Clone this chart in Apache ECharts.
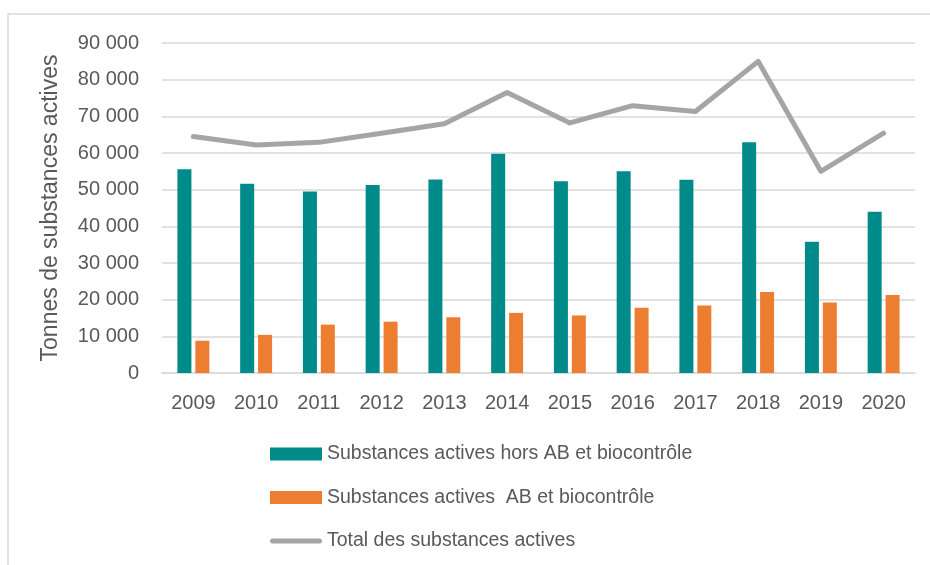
<!DOCTYPE html>
<html>
<head>
<meta charset="utf-8">
<script src="https://cdn.jsdelivr.net/npm/echarts@6/dist/echarts.min.js"></script>
<style>
  html, body { margin: 0; padding: 0; background: #fff; }
  #chart { width: 930px; height: 565px; }
</style>
</head>
<body>
<div id="chart"></div>
<script>
// données (tonnes)
const years = ['2009', '2010', '2011', '2012', '2013', '2014', '2015', '2016', '2017', '2018', '2019', '2020'];
const horsAB = [55600, 51600, 49500, 51300, 52800, 59800, 52300, 55000, 52700, 62900, 35800, 44000];
const abBio = [8800, 10400, 13200, 14000, 15200, 16400, 15700, 17800, 18400, 22100, 19200, 21300];
const total = [64500, 62200, 62900, 65400, 68000, 76500, 68200, 72900, 71300, 85000, 55000, 65400];

const font = "'Liberation Sans Narrow', 'Arial Narrow', 'Liberation Sans', sans-serif";
const textColor = '#595959';

const chart = echarts.init(document.getElementById('chart'));

const fmt = (v) => String(v).replace(/\B(?=(\d{3})+(?!\d))/g, ' ');

chart.setOption({
    backgroundColor: '#fff',
    animation: false,
    textStyle: { fontFamily: font },
    graphic: [{
        type: 'rect',
        shape: { x: 8, y: 14, width: 940, height: 600 },
        style: { fill: 'none', stroke: '#D9D9D9', lineWidth: 1.5 },
        silent: true
    }],
    grid: { left: 162, right: 15, top: 43, bottom: 192, containLabel: false },
    legend: {
        orient: 'vertical',
        left: 270,
        top: 441,
        padding: 0,
        itemWidth: 52,
        itemHeight: 13,
        itemGap: 17.5,
        textStyle: { fontFamily: font, fontSize: 19.5, color: textColor, lineHeight: 26 },
        data: [
            { name: 'Substances actives hors AB et biocontrôle', icon: 'rect' },
            { name: 'Substances actives  AB et biocontrôle', icon: 'rect' },
            {
                name: 'Total des substances actives',
                icon: 'path://M2.5,0 L49.5,0 A2.5,2.5 0 0 1 49.5,5 L2.5,5 A2.5,2.5 0 0 1 2.5,0 Z'
            }
        ]
    },
    xAxis: {
        type: 'category',
        data: years,
        axisTick: { show: false },
        axisLine: { show: true, lineStyle: { color: '#D9D9D9', width: 1.5 } },
        axisLabel: { fontFamily: font, fontSize: 20, color: textColor, margin: 20, interval: 0 }
    },
    yAxis: {
        type: 'value',
        min: 0,
        max: 90000,
        interval: 10000,
        name: 'Tonnes de substances actives',
        nameLocation: 'middle',
        nameGap: 100,
        nameTextStyle: { fontFamily: font, fontSize: 23, color: textColor },
        axisLine: { show: false },
        axisTick: { show: false },
        splitLine: { lineStyle: { color: '#D9D9D9', width: 1.5 } },
        axisLabel: {
            fontFamily: font, fontSize: 20, color: textColor, margin: 23,
            formatter: fmt
        }
    },
    series: [
        {
            name: 'Substances actives hors AB et biocontrôle',
            type: 'bar',
            data: horsAB,
            barWidth: 14,
            barGap: '28%',
            itemStyle: { color: '#008B8B' }
        },
        {
            name: 'Substances actives  AB et biocontrôle',
            type: 'bar',
            data: abBio,
            barWidth: 14,
            itemStyle: { color: '#ED7D31' }
        },
        {
            name: 'Total des substances actives',
            type: 'line',
            data: total,
            symbol: 'none',
            lineStyle: { color: '#A5A5A5', width: 5, cap: 'round', join: 'round' },
            itemStyle: { color: '#A5A5A5' }
        }
    ]
});
</script>
</body>
</html>
